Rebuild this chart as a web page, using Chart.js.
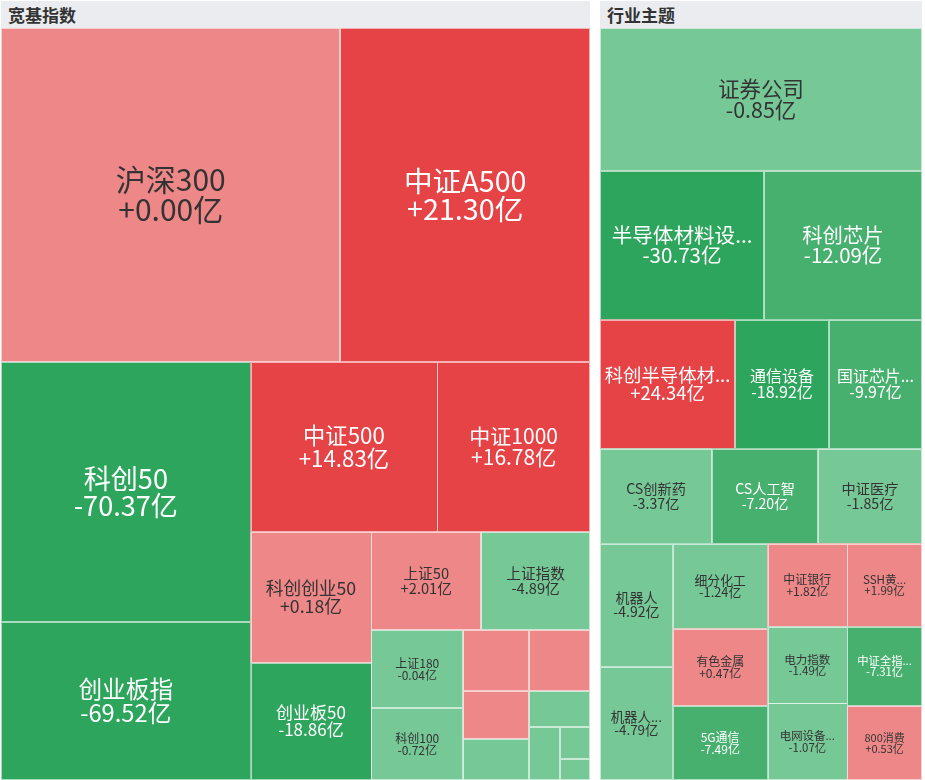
<!DOCTYPE html>
<html>
<head>
<meta charset="utf-8">
<script src="https://cdn.jsdelivr.net/npm/chart.js@4"></script>
<style>
  body { margin: 0; background: #fff; font-family: "Noto Sans CJK SC", sans-serif; }
  .panel { position: absolute; top: 1px; }
  .head { height: 27px; line-height: 27px; background: #eaecef; color: #333; font-weight: bold; font-size: 17px; padding-left: 7px; }
  .box { position: relative; height: 752px; }
</style>
</head>
<body>
<div class="panel" style="left:1px;width:589px">
  <div class="head">宽基指数</div>
  <div class="box"><canvas id="broad"></canvas></div>
</div>
<div class="panel" style="left:600px;width:322px">
  <div class="head">行业主题</div>
  <div class="box"><canvas id="theme"></canvas></div>
</div>
<script>
// 宽基指数: names, net flow (亿), scale weight (亿)
const broadNames = ['沪深300', '中证A500', '科创50', '创业板指', '中证500', '中证1000', '科创创业50', '创业板50', '上证50', '上证指数', '上证180', '科创100', '', '', '', '', '', '', '', ''];
const broadFlows = [0.00, 21.30, -70.37, -69.52, 14.83, 16.78, 0.18, -18.86, 2.01, -4.89, -0.04, -0.72, 0.6, 0.5, 0.4, -0.3, -0.3, -0.2, -0.2, -0.1];
const broadScale = [1135.6, 835.0, 650.0, 395.0, 317.9, 260.1, 158.5, 141.6, 107.8, 106.8, 71.8, 66.2, 40.3, 37.2, 31.7, 27.1, 22.0, 16.4, 9.6, 6.3];

// 行业主题
const themeNames = ['证券公司', '半导体材料设...', '科创芯片', '科创半导体材...', '通信设备', '国证芯片...', 'CS创新药', 'CS人工智', '中证医疗', '机器人', '机器人...', '细分化工', '有色金属', '5G通信', '中证银行', 'SSH黄...', '电力指数', '电网设备...', '中证全指...', '800消费'];
const themeFlows = [-0.85, -30.73, -12.09, 24.34, -18.92, -9.97, -3.37, -7.20, -1.85, -4.92, -4.79, -1.24, 0.47, -7.49, 1.82, 1.99, -1.49, -1.07, -7.31, 0.53];
const themeScale = [460.5, 244.4, 235.4, 174.2, 121.3, 120.0, 106.4, 100.7, 98.8, 89.8, 82.5, 80.8, 73.2, 70.3, 66.4, 62.3, 61.2, 61.0, 59.3, 55.5];

const SQUARE_RATIO = 0.87;

// squarified layout, rows along the shorter side
function squarify(sizes, W, H, ratio) {
  const order = sizes.map((s, i) => i).sort((a, b) => sizes[b] - sizes[a]);
  const total = sizes.reduce((a, b) => a + b, 0);
  const area = sizes.map(s => s * W * H / total);
  const rects = [];
  let rx = 0, ry = 0, rw = W, rh = H;
  let L = Math.min(rw, rh);
  let row = [], rowArea = 0, best = Infinity;

  function worst(row, sum) {
    let mx = 0, mn = Infinity;
    row.forEach(i => { mx = Math.max(mx, area[i]); mn = Math.min(mn, area[i]); });
    const sq = sum * sum, f = L * L * ratio;
    return Math.max(f * mx / sq, sq / (f * mn));
  }
  function place(row, sum, last) {
    if (L === rw) {
      const t = last ? rh : sum / rw;
      let x = rx;
      row.forEach((i, k) => {
        const w = k === row.length - 1 ? rx + rw - x : area[i] / t;
        rects[i] = { x: x, y: ry, w: w, h: t };
        x += w;
      });
      ry += t; rh -= t;
    } else {
      const t = last ? rw : sum / rh;
      let y = ry;
      row.forEach((i, k) => {
        const h = k === row.length - 1 ? ry + rh - y : area[i] / t;
        rects[i] = { x: rx, y: y, w: t, h: h };
        y += h;
      });
      rx += t; rw -= t;
    }
  }

  for (let n = 0; n < order.length;) {
    const i = order[n];
    row.push(i); rowArea += area[i];
    const s = worst(row, rowArea);
    if (s <= best) { n++; best = s; }
    else {
      row.pop(); rowArea -= area[i];
      place(row, rowArea, false);
      L = Math.min(rw, rh);
      row = []; rowArea = 0; best = Infinity;
    }
  }
  if (row.length) place(row, rowArea, true);
  return rects;
}

function cellColor(v) {
  if (v >= 10) return '#e64347';
  if (v >= 5) return '#ea6466';
  if (v >= 0) return '#ee8788';
  if (v <= -15) return '#2ea55c';
  if (v <= -5) return '#48b06e';
  return '#77c897';
}
function textColor(v) {
  return (v >= 5 || v <= -5) ? '#ffffff' : '#333333';
}

const treemapPlugin = {
  id: 'treemapCells',
  beforeDatasetsDraw(chart) {
    const ctx = chart.ctx;
    const sx = chart.scales.x, sy = chart.scales.y;
    const cfg = chart.config.options.treemap;
    const meta = chart.getDatasetMeta(0);
    ctx.save();
    cfg.rects.forEach((r, i) => {
      const x0 = sx.getPixelForValue(r.x), x1 = sx.getPixelForValue(r.x + r.w);
      const y0 = sy.getPixelForValue(r.y), y1 = sy.getPixelForValue(r.y + r.h);
      const v = cfg.flows[i];
      ctx.fillStyle = cellColor(v);
      ctx.fillRect(x0, y0, x1 - x0, y1 - y0);
      ctx.strokeStyle = 'rgba(255,255,255,0.6)';
      ctx.lineWidth = 1;
      ctx.strokeRect(Math.round(x0) + 0.5, Math.round(y0) + 0.5, Math.round(x1 - x0) - 1, Math.round(y1 - y0) - 1);

      const w = x1 - x0, h = y1 - y0;
      if (!cfg.names[i] || w < 70) return;
      let fs = 12 + 6.6 * (Math.log(w * h) - 8.8);
      fs = Math.min(fs, Math.max(0.15 * h, 12));
      fs = Math.max(11, Math.min(30, fs));
      const lh = fs * 1.0;
      const pt = meta.data[i];
      ctx.fillStyle = textColor(v);
      ctx.font = fs.toFixed(1) + 'px "Noto Sans CJK SC", sans-serif';
      ctx.textAlign = 'center';
      ctx.textBaseline = 'middle';
      ctx.fillText(cfg.names[i], pt.x, pt.y - lh / 2);
      ctx.fillText((v >= 0 ? '+' : '') + v.toFixed(2) + '亿', pt.x, pt.y + lh / 2);
    });
    ctx.restore();
  }
};

function makeTreemap(id, names, flows, scale) {
  const canvas = document.getElementById(id);
  const box = canvas.parentNode;
  const W = box.clientWidth, H = box.clientHeight;
  const rects = squarify(scale, W, H, SQUARE_RATIO);
  new Chart(canvas, {
    type: 'scatter',
    data: {
      datasets: [{
        data: rects.map(r => ({ x: r.x + r.w / 2, y: r.y + r.h / 2 })),
        pointRadius: 0,
        pointHoverRadius: 0
      }]
    },
    options: {
      responsive: true,
      maintainAspectRatio: false,
      animation: false,
      events: [],
      layout: { padding: 0 },
      scales: {
        x: { type: 'linear', display: false, min: 0, max: W },
        y: { type: 'linear', display: false, min: 0, max: H, reverse: true }
      },
      plugins: { legend: { display: false }, tooltip: { enabled: false } },
      treemap: { rects: rects, names: names, flows: flows }
    },
    plugins: [treemapPlugin]
  });
}

makeTreemap('broad', broadNames, broadFlows, broadScale);
makeTreemap('theme', themeNames, themeFlows, themeScale);
</script>
</body>
</html>
